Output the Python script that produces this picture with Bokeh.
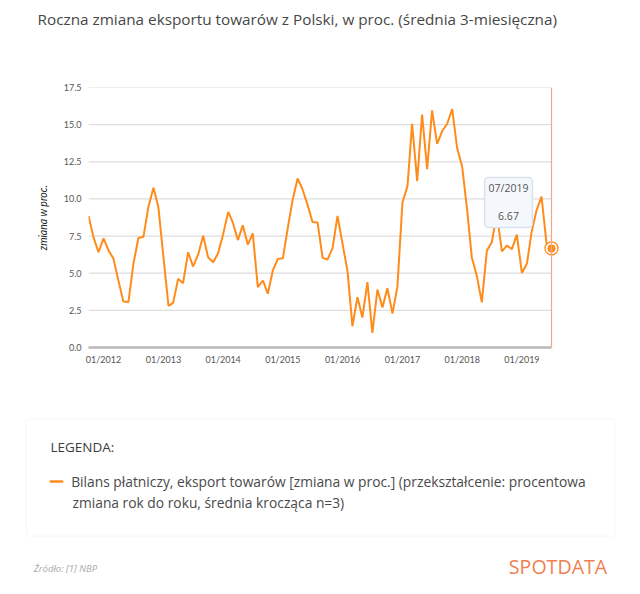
import pandas as pd
from bokeh.plotting import figure
from bokeh.layouts import column
from bokeh.models import (Label, BoxAnnotation, Span, FixedTicker, Range1d,
                          DatetimeTickFormatter, PrintfTickFormatter, ColumnDataSource)
from bokeh.embed import file_html
from bokeh.resources import INLINE

# ---- data -------------------------------------------------------------
start_month = "2011-10"
values = [8.86, 7.41, 6.41, 7.34, 6.52, 6.0, 4.5, 3.1, 3.06, 5.6, 7.37, 7.46,
          9.46, 10.76, 9.46, 6.1, 2.8, 3.0, 4.62, 4.33, 6.41, 5.45, 6.25, 7.52,
          6.07, 5.74, 6.34, 7.63, 9.13, 8.42, 7.23, 8.22, 6.92, 7.68, 4.07, 4.51,
          3.62, 5.2, 5.95, 6.0, 8.1, 9.9, 11.38, 10.65, 9.6, 8.45, 8.42, 6.03,
          5.92, 6.7, 8.86, 6.97, 5.07, 1.43, 3.39, 2.02, 4.4, 0.98, 3.9, 2.7,
          4.0, 2.28, 4.08, 9.76, 10.88, 15.06, 11.2, 15.68, 12.0, 15.96, 13.7, 14.57,
          15.04, 16.05, 13.44, 12.17, 9.2, 6.06, 4.8, 3.04, 6.52, 7.08, 9.0, 6.47,
          6.86, 6.62, 7.6, 5.02, 5.65, 7.75, 9.25, 10.15, 6.97, 6.67]
dates = pd.date_range(start=start_month, periods=len(values), freq="MS")
tick_labels = ["01/2012", "01/2013", "01/2014", "01/2015",
               "01/2016", "01/2017", "01/2018", "01/2019"]
y_ticks = [0.0, 2.5, 5.0, 7.5, 10.0, 12.5, 15.0, 17.5]

title_text = "Roczna zmiana eksportu towarów z Polski, w proc. (średnia 3-miesięczna)"
y_label = "zmiana w proc."
legend_title = "LEGENDA:"
legend_line1 = "Bilans płatniczy, eksport towarów [zmiana w proc.] (przekształcenie: procentowa"
legend_line2 = "zmiana rok do roku, średnia krocząca n=3)"
source_text = "Źródło: [1] NBP"
brand_text = "SPOTDATA"
tooltip_text = "07/2019\n6.67"

ORANGE = "#ff8c1a"
FONT = "Open Sans"
TICK_FONT = "Lato"
W = 632


def strip(height, top):
    """A blank drawing strip whose data units are page pixels."""
    f = figure(width=W, height=height, output_backend="svg", toolbar_location=None,
               x_range=Range1d(0, W), y_range=Range1d(top + height, top),
               x_axis_location=None, y_axis_location=None, min_border=0)
    f.grid.visible = False
    f.outline_line_color = None
    f.background_fill_color = "white"
    f.border_fill_color = "white"
    f.frame_align = False
    return f


def lab(f, x, y, text, size, color, style="normal", align="left"):
    f.add_layout(Label(x=x, y=y, text=text, text_font=FONT, text_font_size=size,
                       text_color=color, text_font_style=style, text_align=align,
                       text_baseline="middle"))


# ---- title strip --------------------------------------------------------
H0 = 40
t = strip(H0, 0)
lab(t, 37, 18.4, title_text, "15.3px", "#474747")

# ---- main chart -------------------------------------------------------
# the frame runs a few pixels past the last month so its marker is not cut
PLOT_W = 463          # pixels between first and last month
PAD_PX = 8            # room right of the last month for the marker
span = dates[-1] - dates[0]
x_end = dates[-1] + span * (PAD_PX / PLOT_W)

src = ColumnDataSource(dict(x=dates, y=values))
p = figure(width=W, height=378 - H0, x_axis_type="datetime",
           output_backend="svg", toolbar_location=None,
           min_border_left=88, min_border_right=W - 88 - PLOT_W - PAD_PX,
           min_border_top=87 - H0, min_border_bottom=31,
           x_range=Range1d(dates[0], x_end), y_range=Range1d(0, 17.5))
p.frame_align = False
p.outline_line_color = None
p.background_fill_color = "white"
p.border_fill_color = "white"

tick_dates = pd.to_datetime(tick_labels, format="%m/%Y")
p.xaxis.ticker = FixedTicker(ticks=[d.timestamp() * 1000 for d in tick_dates])
p.xaxis.formatter = DatetimeTickFormatter(years="%m/%Y", months="%m/%Y",
                                          days="%m/%Y", hours="%m/%Y")
p.xaxis.bounds = (dates[0].timestamp() * 1000, dates[-1].timestamp() * 1000)
p.yaxis.ticker = FixedTicker(ticks=y_ticks)
p.yaxis.formatter = PrintfTickFormatter(format="%.1f")
for ax in (p.xaxis, p.yaxis):
    ax.major_tick_out = 0
    ax.major_tick_in = 0
    ax.minor_tick_out = 0
    ax.minor_tick_in = 0
    ax.major_label_text_font = TICK_FONT
    ax.major_label_text_font_size = "9px"
    ax.major_label_text_color = "#555555"
p.yaxis.axis_line_color = None
p.yaxis.major_label_standoff = 7
p.xaxis.major_label_standoff = 6
p.xaxis.axis_line_color = "#b8b8b8"
p.xaxis.axis_line_width = 2.5
p.yaxis.axis_label = y_label
p.yaxis.axis_label_text_font = TICK_FONT
p.yaxis.axis_label_text_font_style = "italic"
p.yaxis.axis_label_text_font_size = "10.5px"
p.yaxis.axis_label_text_color = "#222222"
p.yaxis.axis_label_standoff = 12
p.grid.visible = False

# horizontal grid lines, ending at the last month
n_t = len(y_ticks)
p.segment(x0=[dates[0]] * n_t, x1=[dates[-1]] * n_t, y0=y_ticks, y1=y_ticks,
          line_color="#dedede", line_width=1.2, level="underlay")

p.add_layout(Span(location=dates[-1], dimension="height",
                  line_color="#f4a58a", line_width=1.2))

line_r = p.line("x", "y", source=src, line_color=ORANGE, line_width=2)

p.scatter([dates[-1]], [values[-1]], size=13, fill_color="white",
          line_color=ORANGE, line_width=1.3)
p.scatter([dates[-1]], [values[-1]], size=8, fill_color=ORANGE, line_color=None)

p.add_layout(Label(x=dates[-1], y=values[-1], x_offset=-43, y_offset=46,
                   text=tooltip_text, text_align="center", text_baseline="middle",
                   text_font=FONT, text_font_size="10.5px", text_color="#555555",
                   text_line_height=2.0,
                   background_fill_color="#f4f8fc", border_line_color="#d7e2ee",
                   border_line_width=1.5, padding=4, border_radius=4))

# ---- legend / footer strip --------------------------------------------
q = strip(208, 378)
q.add_layout(BoxAnnotation(left=25.7, right=614.3, top=418.3, bottom=535.7,
                           fill_color="white", fill_alpha=1.0, level="underlay",
                           line_color="#e6e6e6", line_width=1.2, border_radius=4))
lab(q, 50, 446.7, legend_title, "13.5px", "#3d3d3d")
q.segment(x0=[49.3], y0=[481], x1=[62.7], y1=[481], line_color=ORANGE, line_width=2.5)
lab(q, 70.7, 481, legend_line1, "13.8px", "#4a4a4a")
lab(q, 72, 501.7, legend_line2, "13.8px", "#4a4a4a")
lab(q, 33.3, 568.3, source_text, "9.5px", "#aaaaaa", style="italic")
lab(q, 606.7, 565.7, brand_text, "19.6px", "#ef7f50", align="right")

open("out.html", "w").write(file_html(column(t, p, q), INLINE))
